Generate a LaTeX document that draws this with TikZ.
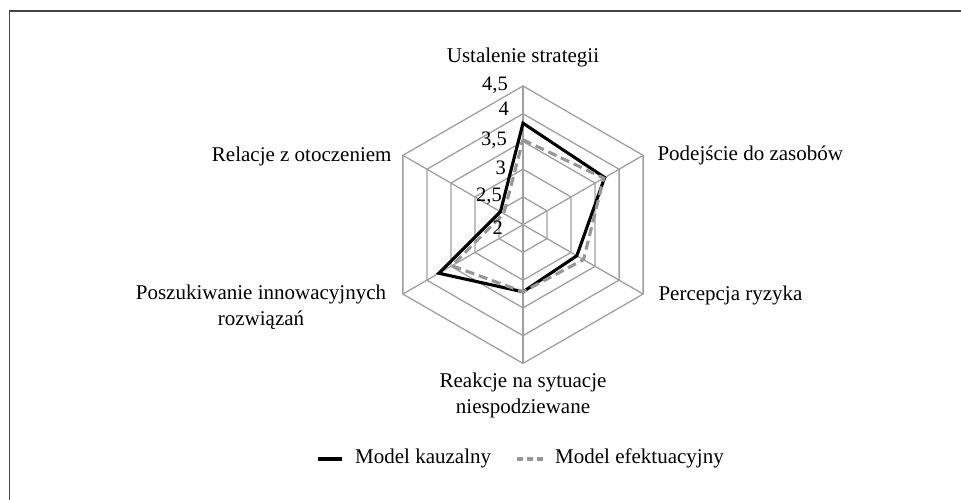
\documentclass[tikz,border=0pt]{standalone}
\usepackage{fontspec}
\setmainfont{Liberation Serif}
\usetikzlibrary{calc}
\begin{document}
\begin{tikzpicture}[x=1pt,y=1pt,
  lbl/.style={font=\fontsize{21}{26}\selectfont, inner sep=0pt, align=center},
  tick/.style={font=\fontsize{20.5}{24}\selectfont, inner sep=0pt, anchor=east},
  gridline/.style={draw={rgb,255:red,160;green,160;blue,160}, line width=1.3pt},
  kauz/.style={draw=black, line width=3.1pt},
  efek/.style={draw={rgb,255:red,150;green,150;blue,150}, line width=3.1pt, dash pattern=on 9pt off 5pt}]
\useasboundingbox (0,0) rectangle (961,500);
\draw[line width=1.3pt, draw={rgb,255:red,70;green,70;blue,70}] (9.5,0) -- (9.5,489) -- (961,489);
\def\U{55.48}
\def\S{27.74}
\begin{scope}[shift={(523,275.3)}]
  \foreach \k in {1,...,5} {
    \draw[gridline] (90:{\k*\S}) -- (30:{\k*\S}) -- (-30:{\k*\S}) -- (-90:{\k*\S}) -- (-150:{\k*\S}) -- (150:{\k*\S}) -- cycle;
  }
  \foreach \a in {90,30,-30,-90,-150,150} {
    \draw[gridline] (0,0) -- (\a:{5*\S});
  }
  % Model kauzalny
  \coordinate (k1) at (90:{(3.83-2)*\U});
  \coordinate (k2) at (30:{(3.70-2)*\U});
  \coordinate (k3) at (-30:{(3.12-2)*\U});
  \coordinate (k4) at (-90:{(3.21-2)*\U});
  \coordinate (k5) at (-150:{(3.75-2)*\U});
  \coordinate (k6) at (150:{(2.47-2)*\U});
  % Model efektuacyjny
  \coordinate (e1) at (90:{(3.53-2)*\U});
  \coordinate (e2) at (30:{(3.68-2)*\U});
  \coordinate (e3) at (-30:{(3.26-2)*\U});
  \coordinate (e4) at (-90:{(3.21-2)*\U});
  \coordinate (e5) at (-150:{(3.48-2)*\U});
  \coordinate (e6) at (150:{(2.40-2)*\U});
  \draw[kauz] (k1) -- (k2) -- (k3) -- (k4) -- (k5) -- (k6) -- cycle;
  \draw[efek] (e1) -- (e2) -- (e3) -- (e4) -- (e5) -- (e6) -- cycle;
\end{scope}
% tick labels
\node[tick] (t45) at (508,414.3) {4,5};
\node[tick] (t40) at (509,391.7) {4};
\node[tick] (t35) at (507,360) {3,5};
\node[tick] (t30) at (506,332.5) {3};
\node[tick] (t25) at (502,304) {2,5};
\node[tick] (t20) at (503,272.5) {2};
% axis labels
\node[lbl, anchor=base] (a1) at (523,437) {Ustalenie strategii};
\node[lbl, anchor=base west] (a2) at (657.3,339.3) {Podejście do zasobów};
\node[lbl, anchor=base west] (a3) at (658.3,199.3) {Percepcja ryzyka};
\node[lbl, anchor=base] (a4) at (523,86) {Reakcje na sytuacje\\niespodziewane};
\node[lbl, anchor=base] (a5) at (261,174) {Poszukiwanie innowacyjnych\\rozwiązań};
\node[lbl, anchor=base east] (a6) at (391.7,338.3) {Relacje z otoczeniem};
% legend
\coordinate (l1a) at (318,41);
\coordinate (l1b) at (342,41);
\coordinate (l2a) at (517,41);
\coordinate (l2b) at (543,41);
\draw[kauz] (l1a) -- (l1b);
\draw[efek, dash pattern=on 6pt off 4pt] (l2a) -- (l2b);
\node[lbl, anchor=base west] (lg1) at (355,36.7) {Model kauzalny};
\node[lbl, anchor=base west] (lg2) at (555,36.7) {Model efektuacyjny};
\end{tikzpicture}
\end{document}
